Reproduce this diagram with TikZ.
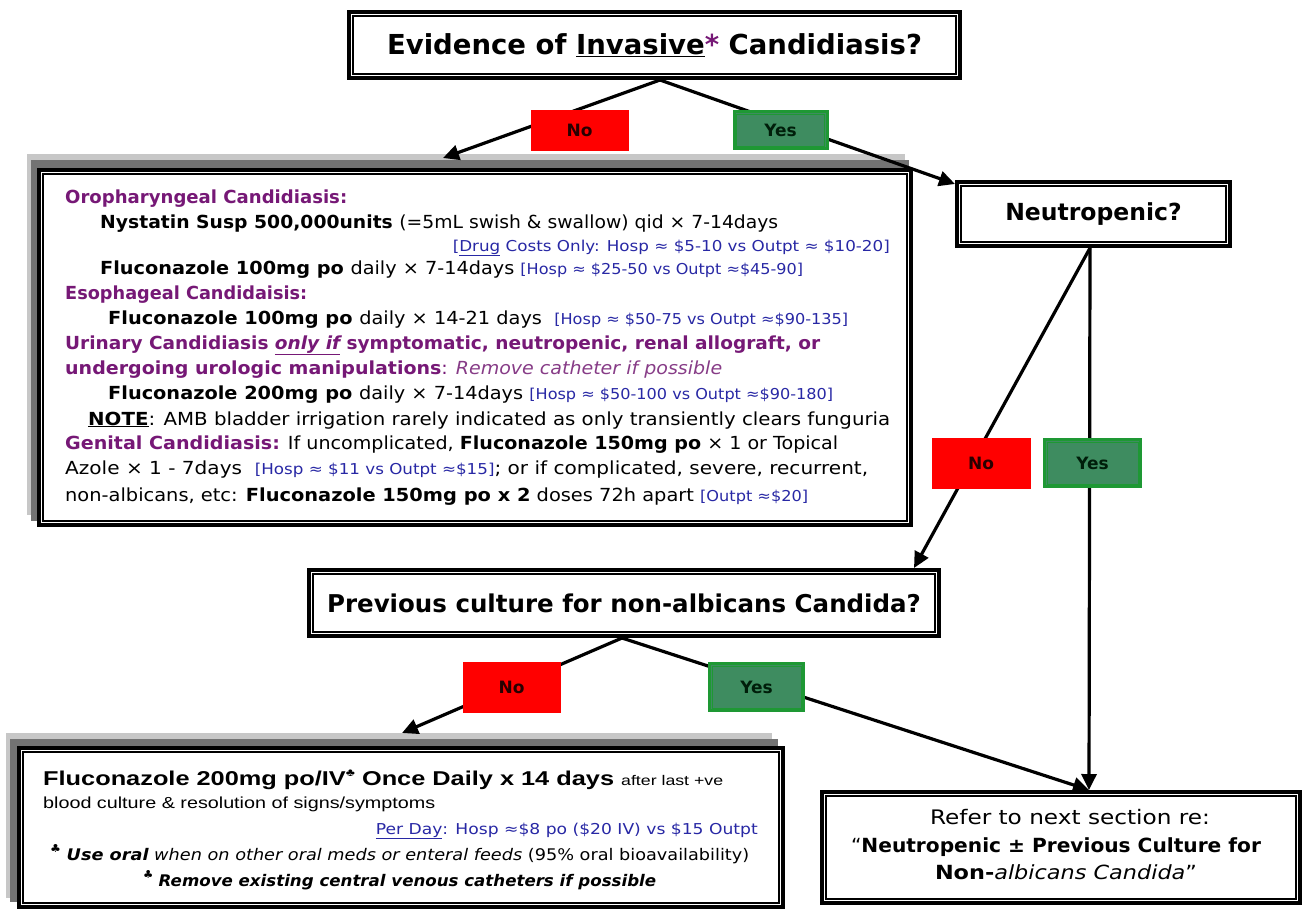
\documentclass[tikz,border=0pt]{standalone}
\usepackage{fontspec}
\setmainfont{DejaVu Sans}
\newfontfamily\arialf{Liberation Sans}
\usetikzlibrary{arrows.meta,calc}
\pgfdeclarelayer{back}
\pgfdeclarelayer{bg}
\pgfsetlayers{back,bg,main}
\definecolor{purp}{RGB}{118,24,118}
\definecolor{lpurp}{RGB}{135,60,135}
\definecolor{cblue}{RGB}{40,40,165}
\definecolor{nored}{RGB}{255,0,0}
\definecolor{notext}{RGB}{40,0,0}
\definecolor{yesfill}{RGB}{62,140,96}
\definecolor{yesline}{RGB}{30,152,52}
\definecolor{yestext}{RGB}{0,30,10}
\newsavebox\fitbox
\newcommand\fitw[2]{\sbox\fitbox{#2}\pgfmathsetmacro\fitsx{#1/\the\wd\fitbox}\scalebox{\fitsx}[1]{\usebox\fitbox}}
\newcommand\innerfr[3]{\draw[#3] ([xshift=#2,yshift=-#2]#1.north west) rectangle ([xshift=-#2,yshift=#2]#1.south east);}
\newcommand\bodyfont{\fontsize{18}{21}\selectfont}
\newcommand\bl[1]{{\color{cblue}\fontsize{15}{17}\selectfont #1}}
\newcommand\club{\raisebox{0.45em}{\fontsize{11}{11}\selectfont ♣}}
\begin{document}
\begin{tikzpicture}[x=1pt,y=-1pt,
  qbox/.style={draw, line width=4pt, fill=white, inner sep=0pt, align=center},
  frline/.style={line width=1.4pt},
  nobox/.style={fill=nored, draw=nored, line width=0.5pt, inner sep=0pt, font=\bfseries\fontsize{17}{17}\selectfont, text=notext},
  yesbox/.style={fill=yesfill, draw=yesline, line width=3pt, inner sep=0pt, font=\bfseries\fontsize{17}{17}\selectfont, text=yestext},
  yesinner/.style={draw=yesline, line width=1pt},
  conn/.style={line width=3.2pt},
  arr/.style={conn, -{Triangle[length=16pt,width=15pt]}},
  txt/.style={anchor=base west, inner sep=0pt},
  txtr/.style={anchor=base east, inner sep=0pt},
  txtc/.style={anchor=base, inner sep=0pt},
  shadowA/.style={fill=black!22},
  shadowB/.style={fill=black!55},
]
\useasboundingbox (0,0) rectangle (1309,910);
\begin{pgfonlayer}{back}
\fill[white] (0,0) rectangle (1309,910);
% ---------- shadows ----------
\fill[shadowA] (27,154) rectangle (905,515);
\fill[shadowB] (31,160) rectangle (909,521);
\fill[shadowA] (6,733) rectangle (772,898);
\fill[shadowB] (10,739) rectangle (778,902);
\end{pgfonlayer}

% ---------- question boxes ----------
\node[qbox, minimum width=611pt, minimum height=66pt,
      font=\bfseries\fontsize{27.5}{30}\selectfont] (q1) at (654.5,45)
  {Evidence of \underline{Invasive}{\color{purp}*} Candidiasis?};
\innerfr{q1}{6pt}{frline}

\node[qbox, minimum width=273pt, minimum height=64pt,
      font=\bfseries\fontsize{23.5}{26}\selectfont] (q2) at (1093.5,214) {Neutropenic?};
\innerfr{q2}{6pt}{frline}

\node[qbox, minimum width=630pt, minimum height=66pt,
      font=\bfseries\fontsize{24.5}{28}\selectfont] (q3) at (624,603)
  {Previous culture for non-albicans Candida?};
\innerfr{q3}{6pt}{frline}

% ---------- big left box ----------
\node[qbox, minimum width=872pt, minimum height=355pt] (box1) at (475,347.5) {};
\innerfr{box1}{6pt}{frline}

\node[txt] (l1) at (65,203) {\fitw{282}{\bodyfont\color{purp}\bfseries Oropharyngeal Candidiasis:}};
\node[txt] (l2) at (100,228) {\fitw{678}{\bodyfont\bfseries Nystatin Susp 500,000units \mdseries (=5mL swish \& swallow) qid × 7-14days}};
\node[txtr] (l3) at (890,251) {\fitw{437}{\bl{[\underline{Drug} Costs Only: Hosp ≈ \$5-10 vs Outpt ≈ \$10-20]}}};
\node[txt] (l4) at (100,274) {\fitw{703}{\bodyfont\bfseries Fluconazole 100mg po \mdseries daily × 7-14days \bl{[Hosp ≈ \$25-50 vs Outpt ≈\$45-90]}}};
\node[txt] (l5) at (65,299) {\fitw{242}{\bodyfont\color{purp}\bfseries Esophageal Candidaisis:}};
\node[txt] (l6) at (108,324) {\fitw{740}{\bodyfont\bfseries Fluconazole 100mg po \mdseries daily × 14-21 days\ \ \bl{[Hosp ≈ \$50-75 vs Outpt ≈\$90-135]}}};
\node[txt] (l7) at (65,349) {\fitw{755}{\bodyfont\color{purp}\bfseries Urinary Candidiasis \underline{\itshape only if} symptomatic, neutropenic, renal allograft, or}};
\node[txt] (l8) at (65,374) {\fitw{657}{\bodyfont\color{purp}\bfseries undergoing urologic manipulations\mdseries: {\color{lpurp}\itshape Remove catheter if possible}}};
\node[txt] (l9) at (108,399) {\fitw{725}{\bodyfont\bfseries Fluconazole 200mg po \mdseries daily × 7-14days \bl{[Hosp ≈ \$50-100 vs Outpt ≈\$90-180]}}};
\node[txt] (l10) at (88,425) {\fitw{802}{\bodyfont\bfseries\underline{NOTE}\mdseries: AMB bladder irrigation rarely indicated as only transiently clears funguria}};
\node[txt] (l11) at (65,449) {\fitw{773}{\bodyfont{\color{purp}\bfseries Genital Candidiasis:} If uncomplicated, {\bfseries Fluconazole 150mg po} × 1 or Topical}};
\node[txt] (l12) at (65,474) {\fitw{803}{\bodyfont Azole × 1 - 7days\ \ \bl{[Hosp ≈ \$11 vs Outpt ≈\$15]}; or if complicated, severe, recurrent,}};
\node[txt] (l13) at (65,501) {\fitw{743}{\bodyfont non-albicans, etc: {\bfseries Fluconazole 150mg po x 2} doses 72h apart \bl{[Outpt ≈\$20]}}};

% ---------- bottom left box ----------
\node[qbox, minimum width=764pt, minimum height=159pt] (box2) at (401,827.5) {};
\innerfr{box2}{6pt}{frline}
\node[txt] (m1) at (43,785) {\fitw{680}{\arialf\bfseries\fontsize{20}{22}\selectfont Fluconazole 200mg po/IV\club\ Once Daily x 14 days {\mdseries\fontsize{14}{16}\selectfont after last +ve}}};
\node[txt] (m2) at (43,808) {\fitw{392}{\arialf\fontsize{16}{18}\selectfont blood culture \& resolution of signs/symptoms}};
\node[txtr] (m3) at (758,834) {\fitw{382}{\color{cblue}\fontsize{15}{17}\selectfont \underline{Per Day}: Hosp ≈\$8 po (\$20 IV) vs \$15 Outpt}};
\node[txt] (m4) at (50,860) {\fitw{699}{\fontsize{16}{18}\selectfont \club\ {\bfseries\itshape Use oral} {\itshape when on other oral meds or enteral feeds} (95\% oral bioavailability)}};
\node[txt] (m5) at (143,886) {\fitw{513}{\fontsize{16}{18}\selectfont \club\ {\bfseries\itshape Remove existing central venous catheters if possible}}};

% ---------- refer box ----------
\node[qbox, minimum width=478pt, minimum height=111pt] (box3) at (1061,847.5) {};
\innerfr{box3}{6pt}{frline}
\node[txtc] (r1) at (1070,824) {\fitw{280}{\fontsize{20}{22}\selectfont Refer to next section re:}};
\node[txtc] (r2) at (1056,852) {\fitw{410}{\fontsize{19.5}{22}\selectfont “\textbf{Neutropenic ± Previous Culture for}}};
\node[txtc] (r3) at (1066,879) {\fitw{262}{\fontsize{19.5}{22}\selectfont \textbf{Non-}\textit{albicans Candida}”}};

% ---------- yes / no labels ----------
\node[nobox, minimum width=97pt, minimum height=40pt] (n1) at (579.5,130) {No};
\node[yesbox, minimum width=93pt, minimum height=37pt] (y1) at (780.5,130) {Yes};
\innerfr{y1}{4pt}{yesinner}
\node[nobox, minimum width=98pt, minimum height=50pt] (n2) at (981,463) {No};
\node[yesbox, minimum width=96pt, minimum height=47pt] (y2) at (1092.5,463) {Yes};
\innerfr{y2}{4pt}{yesinner}
\node[nobox, minimum width=97pt, minimum height=50pt] (n3) at (511.5,687) {No};
\node[yesbox, minimum width=94pt, minimum height=47pt] (y3) at (756.5,687) {Yes};
\innerfr{y3}{4pt}{yesinner}

% ---------- connector end points ----------
\coordinate (q1b) at (660,80);
\coordinate (b1t) at (443,158);
\coordinate (q2l) at (955,184);
\coordinate (q2b) at (1090,248);
\coordinate (q3t) at (914,568);
\coordinate (q3b) at (622,638);
\coordinate (b2t) at (402,733);
\coordinate (b3t) at (1089,790);

\begin{pgfonlayer}{bg}
\draw[arr] (q1b) -- (b1t);
\draw[arr] (q1b) -- (q2l);
\draw[arr] (q2b) -- (q3t);
\draw[arr] (q2b) -- (b3t);
\draw[arr] (q3b) -- (b2t);
\draw[arr] (q3b) -- (b3t);
\end{pgfonlayer}
\end{tikzpicture}
\end{document}
